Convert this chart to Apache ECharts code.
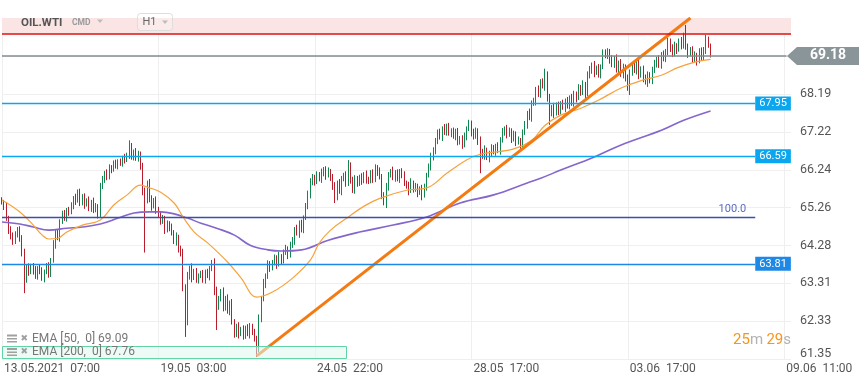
<!DOCTYPE html>
<html><head><meta charset="utf-8">
<script src="https://cdn.jsdelivr.net/npm/echarts@6/dist/echarts.min.js"></script>
<style>html,body{margin:0;padding:0;background:#fff}#c{width:859px;height:385px}</style>
</head><body><div id="c"></div>
<script>
// ---------- data ----------
const firstOpen = 65.45;
const closes = [
65.40,65.30,65.00,64.70,64.50,64.40,64.55,64.70,64.50,64.10,
63.40,63.70,63.60,63.75,63.65,63.50,63.70,63.60,63.45,63.60,
63.75,63.55,63.90,64.30,64.60,64.50,64.90,65.10,65.00,65.20,
65.15,65.30,65.50,65.45,65.65,65.40,65.55,65.35,65.45,65.25,
65.40,65.20,65.30,65.10,65.80,66.00,66.15,66.05,66.30,66.25,
66.40,66.35,66.45,66.40,66.55,66.50,66.60,66.85,66.60,66.70,
66.55,66.65,66.30,65.70,65.45,65.90,65.50,65.30,65.45,65.20,
65.10,64.90,64.95,64.70,64.85,64.75,64.60,64.40,64.50,64.20,
64.10,63.20,62.30,63.50,63.70,63.45,63.60,63.40,63.50,63.55,
63.40,63.60,63.50,63.70,63.85,63.10,62.70,62.90,63.10,62.70,
62.90,62.60,62.80,62.30,62.00,62.20,62.00,62.10,61.95,62.15,
62.00,62.20,62.05,61.90,61.60,62.40,62.90,63.30,63.50,63.80,
63.70,63.85,63.95,63.80,64.00,63.90,64.10,64.20,64.05,64.30,
64.40,64.70,64.60,64.85,64.70,65.00,65.30,65.60,65.90,66.05,
65.95,66.10,66.00,66.15,66.25,66.10,66.20,66.05,65.80,65.55,
65.90,65.70,66.00,66.10,65.90,66.35,66.00,65.70,66.00,65.90,
66.05,65.95,66.10,66.00,65.95,66.15,66.00,66.30,66.20,66.05,
65.60,65.40,65.80,66.10,66.20,66.05,66.15,66.00,66.20,66.10,
65.90,65.85,65.70,65.90,65.75,65.80,65.65,65.75,65.60,65.80,
66.10,66.30,66.60,66.70,67.00,67.20,67.10,67.30,67.20,67.35,
67.20,67.25,67.10,67.20,66.95,67.05,66.90,67.10,67.30,67.45,
67.20,67.10,67.25,67.00,66.70,66.60,66.75,66.55,66.65,66.80,
66.70,66.85,66.75,67.00,67.20,67.30,67.15,67.25,67.05,67.15,
66.95,67.00,66.90,67.20,67.40,67.70,67.60,67.95,68.00,68.30,
68.20,68.50,68.40,68.70,68.10,67.70,67.85,67.70,67.90,67.75,
67.95,67.85,68.00,67.90,68.10,67.95,68.20,68.10,68.35,68.25,
68.45,68.20,68.70,68.80,68.95,68.75,68.85,68.70,68.90,69.25,
69.20,69.30,69.10,68.95,69.10,68.85,69.00,68.70,68.90,68.60,
68.40,68.75,68.95,68.80,69.00,68.70,68.85,68.60,68.50,68.70,
68.55,68.80,69.00,69.10,68.95,69.20,69.10,69.30,69.55,69.40,
69.25,69.45,69.35,69.55,69.45,69.70,69.40,69.25,69.35,69.10,
69.20,69.05,69.30,69.15,69.35,69.60,69.45,69.18
];
// upper / lower shadow lengths in cents
const upWick = [
8,6,10,5,8,12,10,6,8,5, 10,8,12,6,8,10,5,8,12,6, 8,10,6,12,8,10,6,8,10,5,
8,10,6,12,8,10,6,8,5,10, 6,12,8,5,10,8,6,10,8,6, 8,10,6,8,5,10,8,15,8,6,
10,8,6,12,8,6,10,8,6,10, 8,6,12,10,8,6,10,8,12,6, 8,10,8,10,6,12,8,10,6,8,
10,6,8,5,6,10,12,8,6,10, 8,12,6,10,8,6,10,8,12,6, 10,8,6,8,5,10,8,12,6,10,
8,6,10,8,12,6,8,10,6,8, 10,6,12,8,10,6,8,10,12,8, 6,10,8,12,6,8,10,6,8,12,
6,10,8,6,10,14,8,6,10,8, 6,10,8,12,6,8,10,8,6,10, 8,6,10,8,6,12,8,10,6,8,
10,6,8,12,6,10,8,6,10,8, 6,10,8,12,6,8,10,6,12,8, 10,6,8,10,12,6,8,10,6,8,
6,10,8,6,10,8,12,6,8,10, 8,6,10,8,12,6,10,8,6,10, 8,10,6,8,10,6,12,8,10,8,
12,8,10,15,8,10,6,12,8,10, 6,10,8,12,6,10,8,6,10,8, 10,6,8,12,6,10,8,12,6,10,
10,8,6,10,8,12,6,10,8,6, 10,8,6,12,8,10,6,8,10,8, 6,10,8,6,10,8,12,6,10,8,
8,10,6,8,12,8,28,10,6,8, 10,6,8,10,6,12,8,5
];
const downWick = [
6,10,8,12,6,10,8,6,12,10, 35,8,10,6,12,8,10,6,8,12, 6,10,8,6,10,8,12,6,8,10,
10,6,8,12,6,10,8,12,6,8, 10,8,6,12,8,6,10,8,6,10, 6,8,10,6,8,10,6,8,10,12,
8,10,6,12,135,8,10,12,6,10, 10,8,6,12,8,10,6,8,12,10, 10,10,38,8,10,12,6,8,10,6,
8,10,6,12,8,10,60,8,6,12, 10,8,12,6,10,8,12,6,10,8, 6,12,8,10,20,8,10,6,12,8,
10,6,8,12,6,10,8,6,12,8, 8,10,6,12,8,10,6,8,10,6, 12,8,6,10,8,12,6,10,8,17,
10,8,12,6,10,8,12,6,8,10, 8,10,6,12,8,6,10,8,12,6, 12,8,15,10,6,8,12,6,10,8,
8,10,12,6,10,8,12,6,15,8, 10,6,8,12,6,10,8,12,6,8, 8,12,6,10,8,6,12,8,10,6,
10,8,6,12,55,8,10,6,12,8, 6,10,8,12,6,8,10,6,12,8, 10,6,12,8,6,10,8,12,6,10,
8,10,6,12,10,30,8,12,6,10, 8,6,12,8,10,6,8,12,6,10, 8,12,6,10,8,12,6,8,10,6,
8,10,12,6,8,10,12,6,10,8, 12,23,8,6,10,12,8,10,6,12, 8,10,6,12,8,10,6,8,10,12,
10,8,12,6,10,8,6,12,8,10, 8,12,6,10,8,12,6,4
];
const ema50 = [[0,65.46],[8,65.15],[14,64.81],[18,64.55],[21,64.45],[25,64.47],[29,64.63],[36,64.81],[44,64.94],[50,65.33],[56,65.59],[62,65.84],[65,65.79],[71,65.66],[77,65.38],[81,65.02],[86,64.63],[92,64.35],[101,63.85],[107,63.44],[114,62.95],[121,63.08],[130,63.44],[138,63.91],[142,64.35],[147,64.68],[155,65.02],[162,65.30],[169,65.50],[181,65.71],[190,65.77],[199,66.15],[208,66.50],[214,66.64],[229,66.78],[237,67.00],[243,67.39],[250,67.65],[259,67.83],[267,68.04],[277,68.35],[287,68.56],[295,68.68],[302,68.87],[310,69.02],[317,69.09]];
const ema200 = [[0,64.89],[8,64.84],[14,64.76],[21,64.68],[29,64.73],[36,64.76],[44,64.84],[52,64.99],[59,65.12],[66,65.15],[71,65.15],[77,65.10],[83,64.99],[89,64.86],[96,64.73],[104,64.55],[111,64.29],[119,64.17],[125,64.14],[134,64.17],[146,64.42],[160,64.63],[175,64.81],[190,65.02],[205,65.38],[220,65.59],[235,65.90],[241,66.02],[250,66.23],[265,66.57],[277,66.88],[295,67.26],[305,67.52],[317,67.76]];
const trendLine = [[114,61.43],[308,70.16]];
const lastPrice = 69.18;
const resistance = 69.76;
const fibo100 = 65.00;
const levelValues = [67.95, 66.59, 63.81];
const levelLabels = ['67.95', '66.59', '63.81'];
const xTickLabels = ['13.05.2021  07:00', '19.05  03:00', '24.05  22:00', '28.05  17:00', '03.06  17:00', '09.06  11:00'];
const yTickLabels = ['61.35', '62.33', '63.31', '64.28', '65.26', '66.24', '67.22', '68.19'];
const yMin = 61.35, yMax = 70.16, yStep = 0.9775;
const xTickEvery = 70;
const categoryCount = 354;

// ---------- build ----------
const categories = Array.from({length: categoryCount}, (_, i) => String(i));
const candles = closes.map((c, i) => {
  const o = i === 0 ? firstOpen : closes[i - 1];
  const hi = Math.max(o, c) + upWick[i] / 100;
  const lo = Math.min(o, c) - downWick[i] / 100;
  return [o, c, +lo.toFixed(2), +hi.toFixed(2)];
});
const levelColors = ['#0aa6ef', '#0aa6ef', '#1e88e5'];
const levelEnd = 337, lastEnd = 351;
const F = 'Roboto';

const chart = echarts.init(document.getElementById('c'));
chart.setOption({
  animation: false,
  backgroundColor: '#ffffff',
  grid: {left: 2, right: 68, top: 18, bottom: 26, outerBoundsMode: 'none'},
  xAxis: {
    type: 'category', data: categories, boundaryGap: false,
    axisLine: {show: false}, axisTick: {show: false},
    axisLabel: {interval: xTickEvery - 1, align: 'left', margin: 4, padding: [0, 0, 0, 2],
      color: '#555', fontSize: 12, fontFamily: F,
      formatter: v => xTickLabels[Math.round(+v / xTickEvery)] || ''},
    splitLine: {show: true, interval: xTickEvery - 1, lineStyle: {color: '#efefef', width: 1}}
  },
  yAxis: [
    {type: 'value', min: yMin, max: yMax, position: 'right', show: false, scale: true},
    {type: 'value', min: 0, max: (yMax - yMin) / yStep, interval: 1, position: 'right',
      axisLine: {show: false}, axisTick: {show: false},
      splitLine: {show: true, lineStyle: {color: '#efefef', width: 1}},
      axisLabel: {margin: 9, color: '#555', fontSize: 12.5, fontFamily: F, showMaxLabel: false,
        formatter: v => {
          const k = Math.round(v);
          if (Math.abs(v - k) > 1e-6 || k >= yTickLabels.length) return '';
          return k === 0 ? '{low|' + yTickLabels[k] + '}' : yTickLabels[k];
        },
        rich: {low: {color: '#555', fontSize: 12.5, fontFamily: F, padding: [0, 0, 10, 0]}}
      }
    }
  ],
  series: [
    {
      type: 'candlestick', name: 'OIL.WTI', data: candles, yAxisIndex: 0, barWidth: 1,
      itemStyle: {color: '#23b27b', color0: '#f2404e', borderColor: '#11864f', borderColor0: '#b91d2c', borderWidth: 1},
      markArea: {silent: true, itemStyle: {color: '#fae4e4'}, data: [[{yAxis: resistance}, {yAxis: yMax}]]},
      markLine: {
        silent: true, symbol: 'none', label: {show: false},
        data: [
          {yAxis: resistance, lineStyle: {color: '#dd1010', width: 1.5, type: 'solid'}},
          [{coord: [0, lastPrice], lineStyle: {color: '#818c90', width: 1.5, type: 'solid'}}, {coord: [lastEnd, lastPrice]}],
          [{coord: [0, fibo100], lineStyle: {color: '#3b4db0', width: 1.3, type: 'solid'}},
           {coord: [levelEnd, fibo100], label: {show: true, position: 'insideEndTop', distance: [9, 3], formatter: '100.0',
             color: '#5c6bc0', fontSize: 11, fontFamily: F}}],
          ...levelValues.map((v, k) => [
            {coord: [0, v], lineStyle: {color: levelColors[k], width: 1.3, type: 'solid'}},
            {coord: [levelEnd, v], label: {show: true, position: 'end', distance: 0, formatter: levelLabels[k],
              backgroundColor: levelColors[k], color: '#fff', fontSize: 11, fontFamily: F, padding: [1, 4, 1, 4], lineHeight: 12}}
          ])
        ]
      }
    },
    {type: 'line', name: 'EMA 200', data: ema200, yAxisIndex: 0, symbol: 'none', smooth: 0.4,
      lineStyle: {color: '#8466cc', width: 1.6}, z: 3},
    {type: 'line', name: 'EMA 50', data: ema50, yAxisIndex: 0, symbol: 'none', smooth: 0.4,
      lineStyle: {color: '#f7a23b', width: 1.2}, z: 3},
    {type: 'line', name: 'trend', data: trendLine, yAxisIndex: 0, symbol: 'none',
      lineStyle: {color: '#f47a12', width: 3}, z: 4}
  ]
});

const py = v => chart.convertToPixel({yAxisIndex: 0}, v);
const yl = py(lastPrice);
chart.setOption({
  graphic: [
    // last price tag
    {type: 'polygon', z: 100, shape: {points: [[787, yl], [797, yl - 9], [859, yl - 9], [859, yl + 9], [797, yl + 9]]}, style: {fill: '#8a9599'}},
    {type: 'text', z: 101, x: 828, y: yl, style: {text: String(lastPrice.toFixed(2)), fill: '#fff', font: 'bold 14px Roboto', align: 'center', verticalAlign: 'middle'}},
    // header
    {type: 'text', z: 100, x: 21, y: 23, style: {text: 'OIL.WTI', fill: '#555', font: 'bold 11.5px Roboto', verticalAlign: 'middle'}},
    {type: 'text', z: 100, x: 72, y: 23, style: {text: 'CMD', fill: '#9a9a9a', font: 'bold 8.5px Roboto', verticalAlign: 'middle'}},
    {type: 'polygon', z: 100, shape: {points: [[97, 19.5], [103, 19.5], [100, 23]]}, style: {fill: '#bdbdbd'}},
    {type: 'rect', z: 100, shape: {x: 137.5, y: 13.5, width: 35, height: 17, r: 3}, style: {fill: 'rgba(255,255,255,0.25)', stroke: '#dddddd', lineWidth: 1}},
    {type: 'text', z: 101, x: 142.5, y: 22.5, style: {text: 'H1', fill: '#666', font: '11px Roboto', verticalAlign: 'middle'}},
    {type: 'polygon', z: 101, shape: {points: [[162, 20.5], [168, 20.5], [165, 24]]}, style: {fill: '#bdbdbd'}},
    // indicator legend
    {type: 'rect', z: 90, shape: {x: 2.5, y: 346.5, width: 344, height: 12}, style: {fill: 'rgba(222,246,236,0.55)', stroke: '#62d3a4', lineWidth: 1}},
    {type: 'rect', z: 100, shape: {x: 7, y: 334.5, width: 10, height: 2}, style: {fill: '#a0a0a0'}},
    {type: 'rect', z: 100, shape: {x: 7, y: 338, width: 10, height: 1.5}, style: {fill: '#a0a0a0'}},
    {type: 'rect', z: 100, shape: {x: 7, y: 341, width: 10, height: 1.5}, style: {fill: '#a0a0a0'}},
    {type: 'text', z: 100, x: 20.5, y: 338.5, style: {text: '✖', fill: '#a0a0a0', font: '9px "DejaVu Sans"', verticalAlign: 'middle'}},
    {type: 'text', z: 100, x: 32, y: 338.5, style: {text: 'EMA [50,  0] 69.09', fill: '#777', font: '12px Roboto', verticalAlign: 'middle'}},
    {type: 'rect', z: 100, shape: {x: 7, y: 348, width: 10, height: 2}, style: {fill: '#a0a0a0'}},
    {type: 'rect', z: 100, shape: {x: 7, y: 351.5, width: 10, height: 1.5}, style: {fill: '#a0a0a0'}},
    {type: 'rect', z: 100, shape: {x: 7, y: 354.5, width: 10, height: 1.5}, style: {fill: '#a0a0a0'}},
    {type: 'text', z: 100, x: 20.5, y: 352, style: {text: '✖', fill: '#a0a0a0', font: '9px "DejaVu Sans"', verticalAlign: 'middle'}},
    {type: 'text', z: 100, x: 32, y: 352, style: {text: 'EMA [200,  0] 67.76', fill: '#777', font: '12px Roboto', verticalAlign: 'middle'}},
    // countdown
    {type: 'text', z: 100, x: 791, y: 340, style: {text: '{o|25}{g|m} {o|29}{g|s}', align: 'right', verticalAlign: 'middle',
      rich: {o: {fill: '#f7941d', font: '15px Roboto'}, g: {fill: '#b3b3b3', font: '15px Roboto'}}}}
  ]
});
</script>
</body></html>
